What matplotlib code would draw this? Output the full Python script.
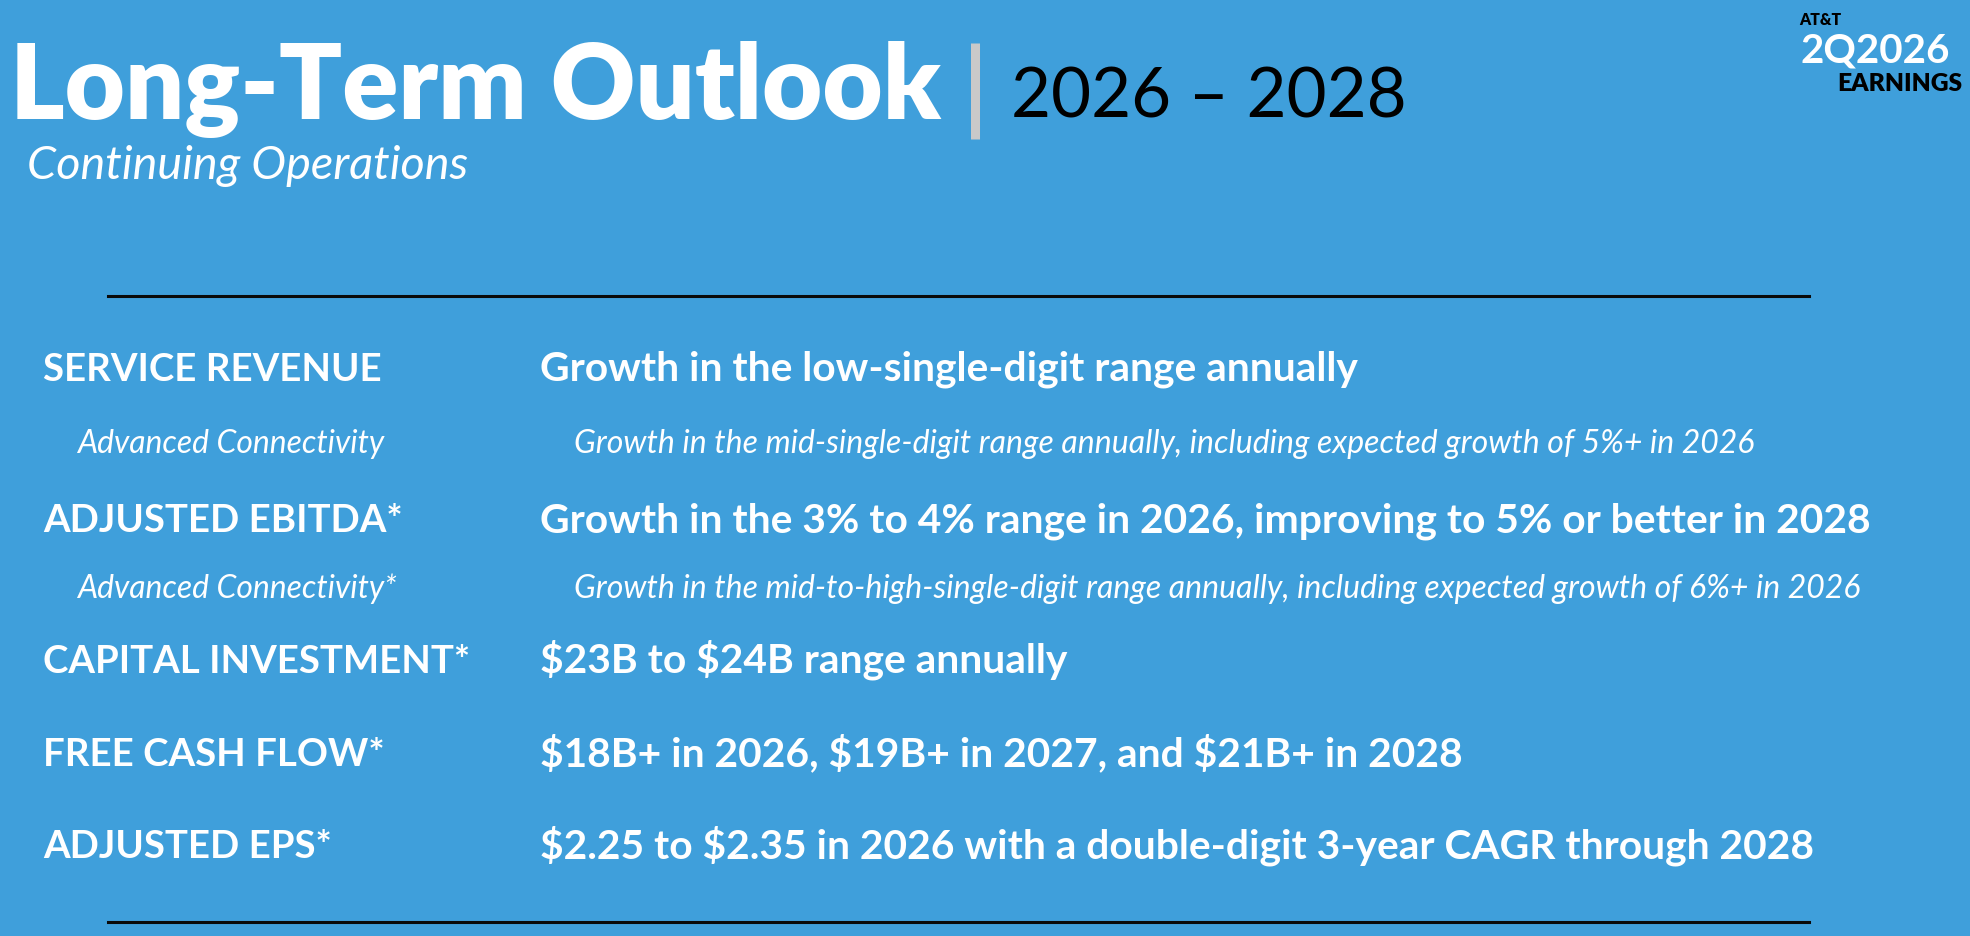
import matplotlib.pyplot as plt

# ----------------------------------------------------------
# Slide content
# ----------------------------------------------------------

TITLE = "Long-Term Outlook"
TITLE_YEARS = "2026 \u2013 2028"
SUBTITLE = "Continuing Operations"

LOGO_TOP = "AT&T"
LOGO_MID = "2Q2026"
LOGO_BOTTOM = "EARNINGS"

LABELS = [
    "SERVICE REVENUE",
    "Advanced Connectivity",
    "ADJUSTED EBITDA*",
    "Advanced Connectivity*",
    "CAPITAL INVESTMENT*",
    "FREE CASH FLOW*",
    "ADJUSTED EPS*",
]

DESCRIPTIONS = [
    "Growth in the low-single-digit range annually",
    "Growth in the mid-single-digit range annually, including expected growth of 5%+ in 2026",
    "Growth in the 3% to 4% range in 2026, improving to 5% or better in 2028",
    "Growth in the mid-to-high-single-digit range annually, including expected growth of 6%+ in 2026",
    "$23B to $24B range annually",
    "$18B+ in 2026, $19B+ in 2027, and $21B+ in 2028",
    "$2.25 to $2.35 in 2026 with a double-digit 3-year CAGR through 2028",
]

IS_SUB = [False, True, False, True, False, False, False]

# ----------------------------------------------------------
# Layout (pixels, y from top)
# ----------------------------------------------------------

W, H = 1970, 936
BG = "#3f9fdb"
FONT = "Lato"

ROW_BASELINES = [381, 453, 532, 598, 673, 766, 858]


def fitted_size(ax, s, width, **kw):
    t = ax.text(0, 0, s, fontsize=50, parse_math=False, **kw)
    r = ax.figure.canvas.get_renderer()
    w = t.get_window_extent(r).width
    t.remove()
    return 50 * width / w


def put(ax, x, y, s, size, **kw):
    ax.text(x, y, s, fontsize=size, family=FONT, va="baseline",
            parse_math=False, **kw)


fig = plt.figure(figsize=(W / 100, H / 100), dpi=100)
fig.patch.set_facecolor(BG)
ax = fig.add_axes([0, 0, 1, 1])
ax.set_xlim(0, W)
ax.set_ylim(H, 0)
ax.axis("off")

# title
size = fitted_size(ax, TITLE, 930, family=FONT, weight="heavy")
put(ax, 10, 119, TITLE, size, weight="heavy", color="white")

ax.plot([975, 975], [43, 139], color="#c9c9c9", linewidth=6.5,
        solid_capstyle="butt")

size = fitted_size(ax, TITLE_YEARS, 396, family=FONT)
put(ax, 1011, 118, TITLE_YEARS, size, color="black")

size = fitted_size(ax, SUBTITLE, 442, family=FONT, style="italic")
put(ax, 27, 179, SUBTITLE, size, style="italic", color="white")

# logo
size = fitted_size(ax, LOGO_TOP, 42, family=FONT, weight="heavy")
put(ax, 1799, 25, LOGO_TOP, size, weight="heavy", color="black")
size = fitted_size(ax, LOGO_MID, 150, family=FONT, weight="bold")
put(ax, 1800, 63, LOGO_MID, size, weight="bold", color="white")
size = fitted_size(ax, LOGO_BOTTOM, 125, family=FONT, weight="heavy")
put(ax, 1962, 91, LOGO_BOTTOM, size, weight="heavy", color="black",
    ha="right")

# rules
ax.plot([108, 1809], [296, 296], color="#0a0a0a", linewidth=2.2)
ax.plot([108, 1809], [922, 922], color="#0a0a0a", linewidth=2.2)

# rows
main_label = fitted_size(ax, LABELS[4], 428, family=FONT, weight="bold")
main_desc = fitted_size(ax, DESCRIPTIONS[2], 1332, family=FONT, weight="bold")
sub_label = fitted_size(ax, LABELS[1], 308, family=FONT, style="italic")
sub_desc = fitted_size(ax, DESCRIPTIONS[3], 1288, family=FONT, style="italic")

for label, desc, sub, y in zip(LABELS, DESCRIPTIONS, IS_SUB, ROW_BASELINES):
    if sub:
        put(ax, 77, y, label, sub_label, style="italic", color="white")
        put(ax, 574, y, desc, sub_desc, style="italic", color="white")
    else:
        put(ax, 43, y, label, main_label, weight="bold", color="white")
        put(ax, 540, y, desc, main_desc, weight="bold", color="white")

fig.savefig("out.png", dpi=100, facecolor=BG)
plt.close(fig)
